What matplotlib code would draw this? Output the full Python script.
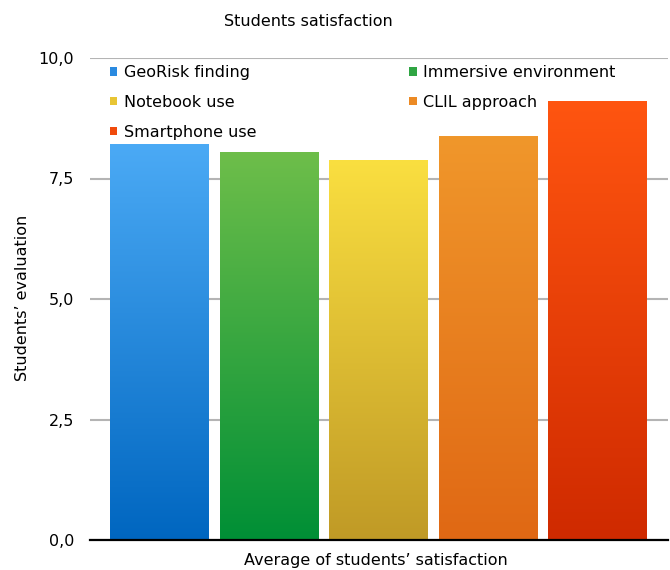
import numpy as np
import matplotlib
matplotlib.use("Agg")
import matplotlib.pyplot as plt
from matplotlib.colors import LinearSegmentedColormap
from matplotlib.patches import Rectangle

categories = ["GeoRisk finding", "Immersive environment", "Notebook use", "CLIL approach", "Smartphone use"]
values = [8.21, 8.05, 7.89, 8.38, 9.10]
top_colors = ["#4BAAF5", "#6EBE4A", "#FADF40", "#F0972B", "#FF5510"]
bottom_colors = ["#0066C0", "#008F36", "#C09A26", "#E06814", "#CF2A00"]
legend_colors = ["#2A8AE0", "#2FA543", "#E8C534", "#EC8A24", "#F04A0C"]
yticks = [0, 2.5, 5.0, 7.5, 10.0]
ytick_labels = ["0,0", "2,5", "5,0", "7,5", "10,0"]

W, H = 670, 570
fig = plt.figure(figsize=(W / 100, H / 100), dpi=100)
ax_left, ax_right = 90, 668
ax_top, ax_bottom = 58, 540
ax = fig.add_axes([ax_left / W, 1 - ax_bottom / H, (ax_right - ax_left) / W, (ax_bottom - ax_top) / H])

x = np.arange(len(values))
width = 0.9
bars = ax.bar(x, values, width=width, color=top_colors, zorder=3, linewidth=0)
grad = np.linspace(1, 0, 256).reshape(-1, 1)
for b, tc, bc, v in zip(bars, top_colors, bottom_colors, values):
    cmap = LinearSegmentedColormap.from_list("g", [bc, tc])
    x0 = b.get_x()
    im = ax.imshow(grad, extent=[x0, x0 + width, 0, v], aspect="auto", cmap=cmap,
                   vmin=0, vmax=1, zorder=3, origin="upper")
    im.set_clip_path(b)

ax.set_xlim(-0.633, len(values) - 0.355)
ax.set_ylim(0, 10)
ax.set_yticks(yticks)
ax.set_yticklabels(ytick_labels, fontsize=11.5)
ax.set_xticks([])
ax.tick_params(axis="y", length=0, pad=11.5)
ax.grid(axis="y", color="#B4B4B4", linewidth=1.5, zorder=0)
for s in ["left", "right", "top"]:
    ax.spines[s].set_visible(False)
ax.spines["bottom"].set_linewidth(1.6)
ax.spines["bottom"].set_color("black")
ax.spines["bottom"].set_zorder(4)

order = [0, 2, 4, 1, 3]
handles = [Rectangle((0, 0), 1, 1, facecolor=legend_colors[i], edgecolor="none") for i in order]
labels = [categories[i] for i in order]
axw = ax_right - ax_left
axh = ax_bottom - ax_top
ax.legend(handles, labels, ncol=2, loc="upper left", frameon=False,
          fontsize=11.5, bbox_to_anchor=((110 - ax_left) / axw, 1 - (65 - ax_top) / axh),
          handlelength=0.45, handleheight=0.45, borderpad=0, borderaxespad=0,
          handletextpad=0.4, columnspacing=9.6, labelspacing=0.93)

fig.text(308 / W, 1 - 21 / H, "Students satisfaction", ha="center", va="center", fontsize=11.5)
fig.text(376 / W, 1 - 561 / H, "Average of students\u2019 satisfaction", ha="center", va="center", fontsize=11.5)
fig.text(23 / W, 1 - 298 / H, "Students\u2019 evaluation", ha="center", va="center", rotation=90, fontsize=11.5)

fig.savefig("out.png", dpi=100)
